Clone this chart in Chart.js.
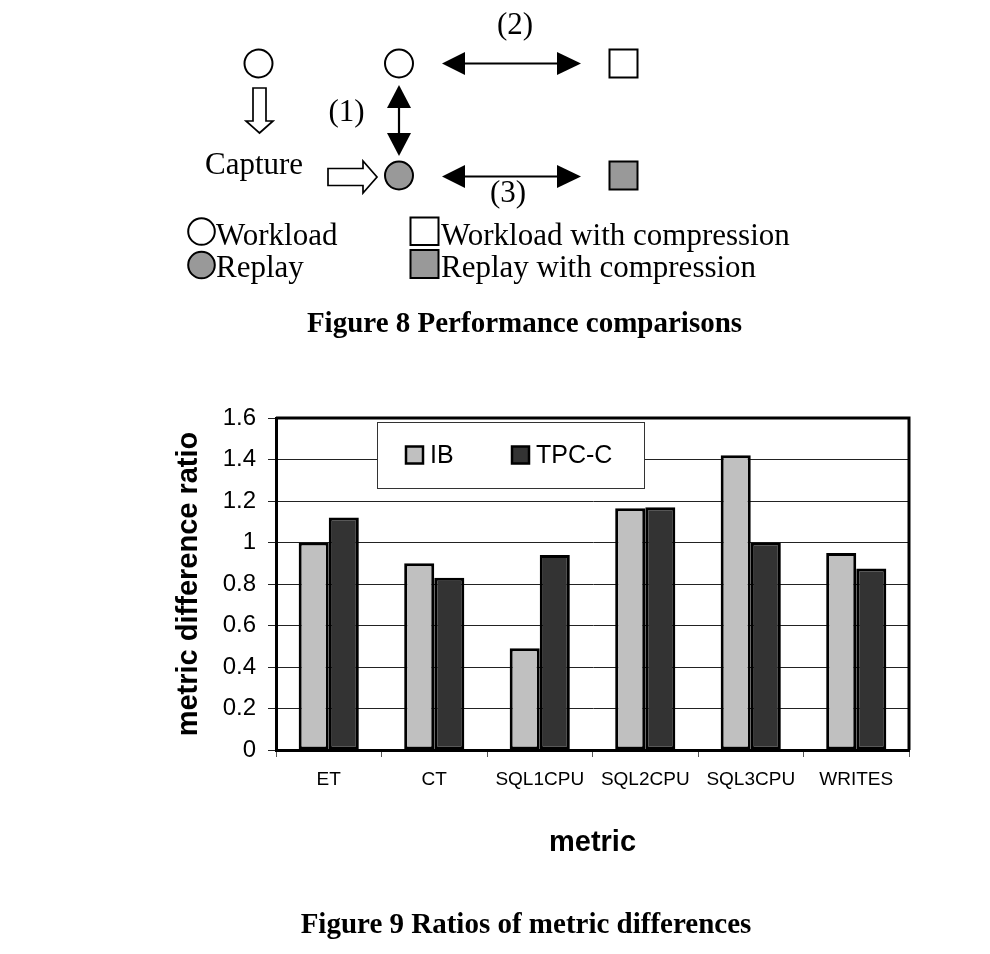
<!DOCTYPE html>
<html>
<head>
<meta charset="utf-8">
<title>Figure 8 / Figure 9</title>
<script src="https://cdn.jsdelivr.net/npm/chart.js@4.4.1/dist/chart.umd.min.js"></script>
<style>
  html, body { margin: 0; padding: 0; background: #fff; }
  #page { position: relative; width: 990px; height: 954px; overflow: hidden; }
  #page svg, #page canvas { position: absolute; left: 0; top: 0; }
  .serif { font-family: "Liberation Serif", "Times New Roman", serif; font-size: 31px; fill: #000; }
  .caption { font-size: 29px; font-weight: bold; }
</style>
</head>
<body>
<div id="page">
  <canvas id="chart9" width="990" height="954"></canvas>

  <!-- Figure 8: the little workload / replay diagram -->
  <svg id="fig8" width="990" height="954" xmlns="http://www.w3.org/2000/svg">
    <g stroke="#000" stroke-width="2" fill="#fff">
      <circle cx="258.5" cy="63.5" r="14"/>
      <circle cx="399" cy="63.5" r="14"/>
      <circle cx="399" cy="175.5" r="14" fill="#999"/>
      <rect x="609.5" y="49.5" width="28" height="28"/>
      <rect x="609.5" y="161.5" width="28" height="28" fill="#999"/>
      <polygon points="253,88 266,88 266,121 273,121 259.5,133 246,121 253,121" stroke-width="1.7"/>
      <polygon points="328,168.5 363,168.5 363,161 377,177 363,193 363,185.5 328,185.5" stroke-width="1.7"/>
      <circle cx="201.5" cy="231.5" r="13.3"/>
      <circle cx="201.5" cy="265" r="13.3" fill="#999"/>
      <rect x="410.5" y="217.5" width="28" height="27.5"/>
      <rect x="410.5" y="250" width="28" height="28" fill="#999"/>
    </g>
    <g stroke="#000" stroke-width="2.2">
      <line x1="399" y1="104" x2="399" y2="137"/>
      <line x1="462" y1="63.5" x2="560" y2="63.5"/>
      <line x1="462" y1="176.5" x2="560" y2="176.5"/>
    </g>
    <g fill="#000">
      <polygon points="399,85 387,108 411,108"/>
      <polygon points="387,133 411,133 399,156"/>
      <polygon points="442,63.5 465,52 465,75"/>
      <polygon points="581,63.5 557,52 557,75"/>
      <polygon points="442,176.5 465,165 465,188"/>
      <polygon points="581,176.5 557,165 557,188"/>
    </g>
    <text class="serif" x="515" y="34" text-anchor="middle">(2)</text>
    <text class="serif" x="346.5" y="120.5" text-anchor="middle">(1)</text>
    <text class="serif" x="508" y="202" text-anchor="middle">(3)</text>
    <text class="serif" x="205" y="174">Capture</text>
    <text class="serif" x="216" y="245">Workload</text>
    <text class="serif" x="216" y="277">Replay</text>
    <text class="serif" x="441" y="245">Workload with compression</text>
    <text class="serif" x="441" y="277">Replay with compression</text>
    <text class="serif caption" x="524.5" y="332" text-anchor="middle">Figure 8 Performance comparisons</text>
    <text class="serif caption" x="526" y="933" text-anchor="middle">Figure 9 Ratios of metric differences</text>
  </svg>
</div>

<script>
'use strict';

// Figure 9 data
const metrics = ["ET", "CT", "SQL1CPU", "SQL2CPU", "SQL3CPU", "WRITES"];
const ibRatios = [1.0, 0.90, 0.49, 1.165, 1.42, 0.95];
const tpccRatios = [1.12, 0.83, 0.94, 1.17, 1.0, 0.875];
const yTickLabels = ["0", "0.2", "0.4", "0.6", "0.8", "1", "1.2", "1.4", "1.6"];

const sansFont = '"Liberation Sans", Arial, sans-serif';

// top and right edges of the plot frame
const frameBox = {
  id: "frameBox",
  afterDraw(chart) {
    const { ctx, chartArea: a } = chart;
    ctx.save();
    ctx.strokeStyle = "#000";
    ctx.lineWidth = 3;
    ctx.beginPath();
    ctx.moveTo(a.left, a.top);
    ctx.lineTo(a.right, a.top);
    ctx.lineTo(a.right, a.bottom);
    ctx.stroke();
    ctx.restore();
  },
};

// legend box sitting inside the plot, like the Excel one
const boxLegend = {
  id: "boxLegend",
  afterDraw(chart, args, opts) {
    const { ctx } = chart;
    ctx.save();
    ctx.fillStyle = "#fff";
    ctx.fillRect(opts.left, opts.top, opts.width, opts.height);
    ctx.strokeStyle = "#333";
    ctx.lineWidth = 1;
    ctx.strokeRect(opts.left + 0.5, opts.top + 0.5, opts.width, opts.height);

    ctx.font = `${opts.fontSize}px ${sansFont}`;
    ctx.textBaseline = "middle";
    const midY = opts.top + opts.height / 2;
    chart.data.datasets.forEach((ds, i) => {
      const x = opts.itemX[i];
      ctx.fillStyle = ds.backgroundColor;
      ctx.fillRect(x, midY - 8.5, 17, 17);
      ctx.strokeStyle = "#000";
      ctx.lineWidth = 2.5;
      ctx.strokeRect(x, midY - 8.5, 17, 17);
      ctx.fillStyle = "#000";
      ctx.fillText(ds.label, x + 24, midY + 1);
    });
    ctx.restore();
  },
};

const ctx = document.getElementById("chart9");

new Chart(ctx, {
  type: "bar",
  data: {
    labels: metrics,
    datasets: [
      {
        label: "IB",
        data: ibRatios,
        backgroundColor: "#C0C0C0",
        borderColor: "#000",
        borderWidth: 3,
        borderSkipped: false,
      },
      {
        label: "TPC-C",
        data: tpccRatios,
        backgroundColor: "#333333",
        borderColor: "#000",
        borderWidth: 3,
        borderSkipped: false,
      },
    ],
  },
  options: {
    responsive: false,
    animation: false,
    events: [],
    datasets: {
      bar: { categoryPercentage: 0.57, barPercentage: 1.0 },
    },
    layout: {
      padding: { left: 150, top: 418, right: 81, bottom: 94 },
    },
    scales: {
      x: {
        afterFit: (scale) => { scale.height = 110; },
        grid: {
          display: true,
          drawOnChartArea: false,
          drawTicks: true,
          tickLength: 7,
          offset: true,
          color: "#555",
          lineWidth: 1,
        },
        border: { display: true, color: "#000", width: 3 },
        ticks: {
          color: "#000",
          padding: 11,
          maxRotation: 0,
          autoSkip: false,
          font: { family: sansFont, size: 19 },
        },
        title: {
          display: true,
          text: "metric",
          color: "#000",
          padding: { top: 0, bottom: 0 },
          font: { family: sansFont, size: 29, weight: "bold" },
        },
      },
      y: {
        min: 0,
        max: 1.6,
        afterFit: (scale) => { scale.width = 126; },
        grid: {
          color: "#222",
          lineWidth: 1,
          drawTicks: true,
          tickLength: 8,
        },
        border: { display: true, color: "#000", width: 3 },
        ticks: {
          stepSize: 0.2,
          color: "#000",
          padding: 12,
          font: { family: sansFont, size: 24 },
          callback: (value, index) => yTickLabels[index],
        },
        title: {
          display: true,
          text: "metric difference ratio",
          color: "#000",
          padding: { top: 21.5, bottom: 0 },
          font: { family: sansFont, size: 29, weight: "bold" },
        },
      },
    },
    plugins: {
      legend: { display: false },
      tooltip: { enabled: false },
      boxLegend: {
        left: 377,
        top: 422,
        width: 267,
        height: 66,
        itemX: [406, 512],
        fontSize: 25,
      },
    },
  },
  plugins: [frameBox, boxLegend],
});
</script>
</body>
</html>
